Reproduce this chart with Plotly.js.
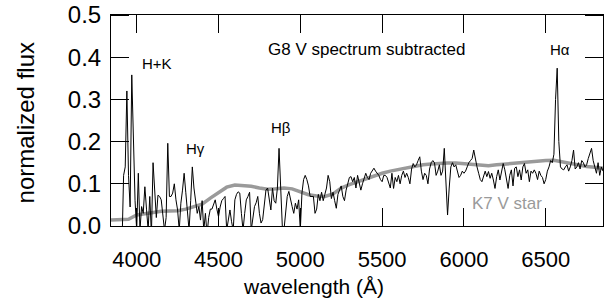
<!DOCTYPE html>
<html>
<head>
<meta charset="utf-8">
<script src="https://cdn.plot.ly/plotly-3.0.1.min.js"></script>
<style>
html,body{margin:0;padding:0;background:#fff;}
#wrap{position:relative;width:604px;height:306px;}
#frame{position:absolute;left:0;top:0;width:604px;height:306px;pointer-events:none;}
#frame div{position:absolute;background:#000;}
</style>
</head>
<body>
<div id="wrap">
<div id="chart" style="width:604px;height:306px;"></div>
<div id="frame"></div>
</div>
<script>
// Subtracted spectrum (black): wavelength (Å) and normalized flux
const spectrumWave = [
  3910,3920,3930,3940,3950,3960,3970,3980,3990,
  4000,4010,4020,4030,4040,4050,4060,4070,4080,4090,
  4100,4110,4120,4130,4140,4150,4160,4170,4180,4190,
  4200,4210,4220,4230,4240,4250,4260,4270,4280,4290,
  4300,4310,4320,4330,4340,4350,4360,4370,4380,4390,
  4400,4410,4420,4430,4440,4450,4460,4470,4480,4490,
  4500,4510,4520,4530,4540,4550,4560,4570,4580,4590,
  4600,4610,4620,4630,4640,4650,4660,4670,4680,4690,
  4700,4710,4720,4730,4740,4750,4760,4770,4780,4790,
  4800,4810,4820,4830,4840,4850,4860,4870,4880,4890,
  4900,4910,4920,4930,4940,4950,4960,4970,4980,4990,
  5000,5010,5020,5030,5040,5050,5060,5070,5080,5090,
  5100,5110,5120,5130,5140,5150,5160,5170,5180,5190,
  5200,5210,5220,5230,5240,5250,5260,5270,5280,5290,
  5300,5310,5320,5330,5340,5350,5360,5370,5380,5390,
  5400,5410,5420,5430,5440,5450,5460,5470,5480,5490,
  5500,5510,5520,5530,5540,5550,5560,5570,5580,5590,
  5600,5610,5620,5630,5640,5650,5660,5670,5680,5690,
  5700,5710,5720,5730,5740,5750,5760,5770,5780,5790,
  5800,5810,5820,5830,5840,5850,5860,5870,5880,5890,
  5900,5910,5920,5930,5940,5950,5960,5970,5980,5990,
  6000,6010,6020,6030,6040,6050,6060,6070,6080,6090,
  6100,6110,6120,6130,6140,6150,6160,6170,6180,6190,
  6200,6210,6220,6230,6240,6250,6260,6270,6280,6290,
  6300,6310,6320,6330,6340,6350,6360,6370,6380,6390,
  6400,6410,6420,6430,6440,6450,6460,6470,6480,6490,
  6500,6510,6520,6530,6540,6550,6560,6570,6580,6590,
  6600,6610,6620,6630,6640,6650,6660,6670,6680,6690,
  6700,6710,6720,6730,6740,6750,6760,6770,6780,6790,
  6800,6810,6820,6830,6840,6850
];
const spectrumFlux = [
  -0.05,0.12,0.14,0.32,0.12,0.045,0.358,0.2,0.06,
  -0.01,0.125,-0.01,0.046,0.03,0.093,0.04,-0.01,0.07,-0.02,
  0.15,0.078,0.02,0.073,0.07,0.062,0.02,-0.01,0.02,0.196,
  0.07,0.07,0.078,0.1,0.062,0.038,-0.01,0.054,0.085,0.125,
  0.08,0.02,-0.01,0.06,0.14,0.09,0.054,0.03,0.046,0.014,
  0.06,-0.01,0.03,-0.02,0.02,0.04,0.04,0.05,0.062,0.04,
  0.022,0.045,0.06,0.065,0.07,-0.01,0.02,0.038,0.01,-0.01,
  0.062,0.075,0.081,0.078,0.03,-0.01,0.03,0.062,0.07,0.08,
  -0.01,0.02,0.046,0.055,0.07,0.03,0.007,0.015,0.05,0.085,
  0.09,0.06,0.038,0.09,0.06,0.054,0.09,0.184,0.078,0.0,
  -0.01,0.03,0.07,0.082,0.06,0.046,0.03,0.054,0.04,0.062,
  -0.01,0.078,0.11,0.12,0.11,0.095,0.07,0.07,0.07,0.03,
  0.04,0.075,0.06,0.08,0.06,0.075,0.09,0.12,0.105,0.065,
  0.08,0.06,0.042,0.075,0.085,0.095,0.07,0.06,0.085,0.1,
  0.115,0.117,0.105,0.115,0.09,0.12,0.105,0.085,0.1,0.115,
  0.125,0.115,0.11,0.125,0.13,0.137,0.13,0.125,0.12,0.11,
  0.105,0.12,0.12,0.115,0.1,0.09,0.125,0.089,0.115,0.105,
  0.12,0.1,0.12,0.13,0.115,0.125,0.115,0.1,0.135,0.148,
  0.14,0.145,0.155,0.164,0.13,0.11,0.125,0.12,0.1,0.135,
  0.15,0.155,0.15,0.12,0.13,0.145,0.12,0.13,0.184,0.11,
  0.026,0.09,0.14,0.15,0.14,0.145,0.13,0.115,0.12,0.13,
  0.125,0.13,0.14,0.15,0.155,0.16,0.18,0.155,0.14,0.125,
  0.11,0.105,0.12,0.13,0.117,0.129,0.113,0.125,0.109,0.089,
  0.117,0.133,0.109,0.125,0.148,0.133,0.11,0.089,0.12,0.133,
  0.095,0.137,0.14,0.117,0.133,0.109,0.14,0.148,0.125,0.133,
  0.105,0.13,0.125,0.133,0.125,0.11,0.13,0.12,0.115,0.1,
  0.11,0.13,0.14,0.155,0.15,0.17,0.3,0.374,0.2,0.14,
  0.135,0.133,0.14,0.145,0.13,0.14,0.155,0.18,0.135,0.14,
  0.15,0.135,0.155,0.15,0.14,0.145,0.16,0.17,0.184,0.155,
  0.14,0.125,0.15,0.12,0.14,0.13
];

// K7 V template star (grey)
const templateWave = [3843,3900,3950,4000,4050,4100,4150,4200,4250,4300,4350,4400,4450,4500,4550,4600,4650,4700,4750,4800,4850,4900,4950,5000,5050,5100,5150,5200,5250,5300,5350,5400,5450,5500,5550,5600,5650,5700,5750,5800,5850,5900,5950,6000,6050,6100,6150,6200,6250,6300,6350,6400,6450,6500,6550,6600,6650,6700,6750,6800,6850];
const templateFlux = [0.014,0.014,0.016,0.026,0.03,0.032,0.035,0.035,0.036,0.04,0.046,0.052,0.066,0.08,0.092,0.097,0.096,0.094,0.09,0.087,0.088,0.09,0.088,0.08,0.074,0.071,0.07,0.076,0.09,0.098,0.105,0.112,0.12,0.125,0.13,0.134,0.137,0.141,0.145,0.147,0.149,0.149,0.149,0.148,0.147,0.146,0.143,0.145,0.147,0.149,0.15,0.152,0.153,0.155,0.156,0.152,0.149,0.145,0.141,0.139,0.137];

const xTicks = [4000,4500,5000,5500,6000,6500];
const yTicks = [0.0,0.1,0.2,0.3,0.4,0.5];
const yTickText = ["0.0","0.1","0.2","0.3","0.4","0.5"];
const xRange = [3843, 6850];
const yRange = [0, 0.5];

const FONT = "Liberation Sans, Arial, Helvetica, sans-serif";
const TICK_PX = 18;

const traces = [
  {x: templateWave, y: templateFlux, type: "scatter", mode: "lines",
   line: {color: "rgb(154,154,154)", width: 3.5}, hoverinfo: "skip", showlegend: false},
  {x: spectrumWave, y: spectrumFlux, type: "scatter", mode: "lines",
   line: {color: "black", width: 1}, showlegend: false}
];

const axisStyle = {
  showline: true, linecolor: "black", linewidth: 1, mirror: "ticks",
  ticks: "inside", ticklen: TICK_PX, tickwidth: 1, tickcolor: "black",
  showgrid: false, zeroline: false
};

const layout = {
  width: 604, height: 306,
  margin: {l: 111, r: 1, t: 15, b: 80},
  paper_bgcolor: "white", plot_bgcolor: "white",
  font: {family: FONT, color: "black"},
  showlegend: false,
  xaxis: Object.assign({}, axisStyle, {
    range: xRange, tickmode: "array", tickvals: xTicks,
    tickfont: {size: 22, family: FONT}, ticklabelstandoff: 14
  }),
  yaxis: Object.assign({}, axisStyle, {
    range: yRange, tickmode: "array", tickvals: yTicks, ticktext: yTickText,
    tickfont: {size: 24, family: FONT}, ticklabelstandoff: 4
  }),
  annotations: [
    {text: "wavelength (Å)", xref: "paper", yref: "paper", x: 0.4106, y: -0.289,
     xanchor: "center", yanchor: "middle", showarrow: false, font: {size: 21, family: FONT}},
    {text: "normalized flux", xref: "paper", yref: "paper", x: -0.174, y: 0.488, textangle: -90,
     xanchor: "center", yanchor: "middle", showarrow: false, font: {size: 24, family: FONT}},
    {text: "G8 V spectrum subtracted", x: 5402, y: 0.418, showarrow: false,
     xanchor: "center", yanchor: "middle", font: {size: 17, family: FONT}},
    {text: "H+K", x: 4124, y: 0.384, showarrow: false,
     xanchor: "center", yanchor: "middle", font: {size: 15, family: FONT}},
    {text: "Hγ", x: 4359, y: 0.183, showarrow: false,
     xanchor: "center", yanchor: "middle", font: {size: 15, family: FONT}},
    {text: "Hβ", x: 4882, y: 0.233, showarrow: false,
     xanchor: "center", yanchor: "middle", font: {size: 15, family: FONT}},
    {text: "Hα", x: 6587, y: 0.419, showarrow: false,
     xanchor: "center", yanchor: "middle", font: {size: 15, family: FONT}},
    {text: "K7 V star", x: 6263, y: 0.0545, showarrow: false,
     xanchor: "center", yanchor: "middle", font: {size: 17, family: FONT, color: "rgb(154,154,154)"}}
  ]
};

function bar(parent, left, top, w, h) {
  const el = document.createElement("div");
  el.style.left = left + "px"; el.style.top = top + "px";
  el.style.width = w + "px"; el.style.height = h + "px";
  parent.appendChild(el);
}

Plotly.newPlot("chart", traces, layout, {displayModeBar: false}).then(function (gd) {
  // Frame and inward ticks placed through Plotly's own axis scales
  const xa = gd._fullLayout.xaxis, ya = gd._fullLayout.yaxis;
  const left = Math.floor(xa._offset) - 1, right = Math.floor(xa._offset + xa._length);
  const top = Math.floor(ya._offset) - 1, bottom = Math.floor(ya._offset + ya._length);
  const f = document.getElementById("frame");
  bar(f, left, top, right - left + 1, 1);
  bar(f, left, bottom, right - left + 1, 1);
  bar(f, left, top, 1, bottom - top + 1);
  bar(f, right, top, 1, bottom - top + 1);
  xTicks.forEach(function (v) {
    const px = Math.floor(xa._offset + xa.l2p(v));
    bar(f, px, bottom - TICK_PX, 1, TICK_PX);
    bar(f, px, top + 1, 1, TICK_PX);
  });
  yTicks.forEach(function (v) {
    const py = Math.floor(ya._offset + ya.l2p(v));
    bar(f, left + 1, py, TICK_PX, 1);
    bar(f, right - TICK_PX, py, TICK_PX, 1);
  });
});
</script>
</body>
</html>
